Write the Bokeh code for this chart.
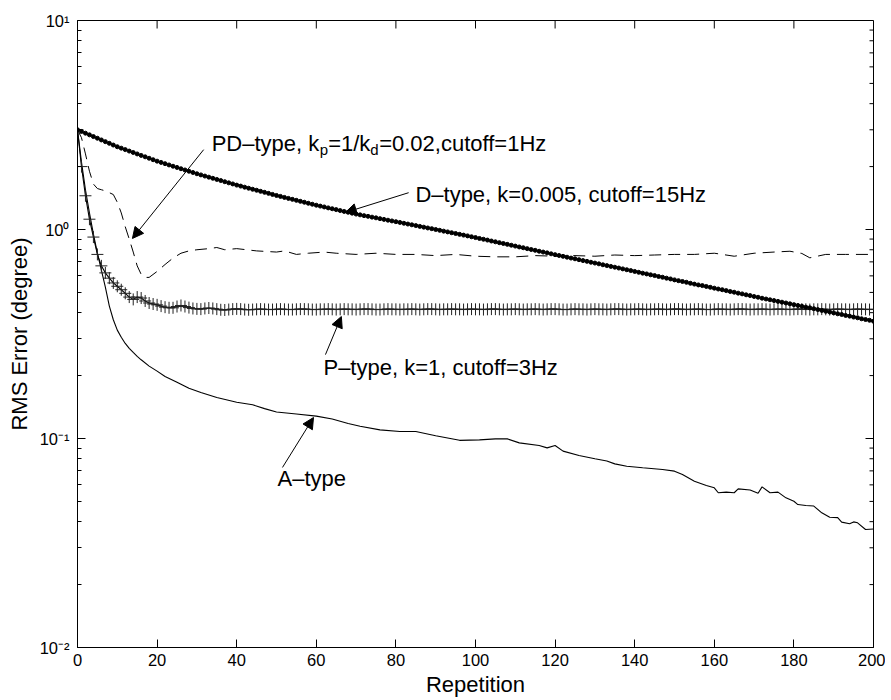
import math
from bokeh.plotting import figure
from bokeh.models import (FixedTicker, CustomJSTickFormatter, Arrow, NormalHead, Label, Range1d)
from bokeh.embed import file_html
from bokeh.resources import INLINE

FONT = "Liberation Sans"

# ---------------- data ----------------
rep = list(range(201))

d_type = [
    3.000, 2.945, 2.890, 2.837, 2.784, 2.733, 2.682, 2.633, 2.584, 2.536,
    2.489, 2.450, 2.411, 2.373, 2.336, 2.299, 2.262, 2.227, 2.192, 2.157,
    2.123, 2.094, 2.065, 2.036, 2.008, 1.981, 1.953, 1.927, 1.900, 1.874,
    1.848, 1.825, 1.802, 1.780, 1.758, 1.736, 1.715, 1.693, 1.672, 1.652,
    1.631, 1.613, 1.594, 1.576, 1.558, 1.541, 1.523, 1.506, 1.489, 1.472,
    1.455, 1.440, 1.424, 1.409, 1.394, 1.379, 1.364, 1.350, 1.335, 1.321,
    1.307, 1.294, 1.282, 1.269, 1.257, 1.245, 1.232, 1.220, 1.209, 1.197,
    1.185, 1.175, 1.165, 1.156, 1.146, 1.137, 1.127, 1.118, 1.108, 1.099,
    1.090, 1.081, 1.071, 1.062, 1.053, 1.044, 1.035, 1.026, 1.017, 1.009,
    1.000, 0.991, 0.982, 0.974, 0.965, 0.957, 0.948, 0.940, 0.932, 0.923,
    0.915, 0.906, 0.898, 0.890, 0.881, 0.873, 0.865, 0.857, 0.849, 0.841,
    0.833, 0.825, 0.818, 0.810, 0.802, 0.795, 0.787, 0.780, 0.773, 0.765,
    0.758, 0.751, 0.744, 0.737, 0.730, 0.724, 0.717, 0.710, 0.704, 0.697,
    0.691, 0.685, 0.678, 0.672, 0.666, 0.660, 0.654, 0.648, 0.642, 0.636,
    0.630, 0.624, 0.618, 0.613, 0.607, 0.602, 0.596, 0.591, 0.585, 0.580,
    0.574, 0.569, 0.564, 0.559, 0.553, 0.548, 0.543, 0.539, 0.534, 0.529,
    0.524, 0.519, 0.515, 0.510, 0.505, 0.501, 0.496, 0.492, 0.487, 0.483,
    0.478, 0.474, 0.469, 0.465, 0.461, 0.457, 0.453, 0.449, 0.445, 0.441,
    0.437, 0.433, 0.429, 0.425, 0.422, 0.418, 0.414, 0.410, 0.406, 0.403,
    0.399, 0.395, 0.392, 0.388, 0.385, 0.381, 0.378, 0.374, 0.371, 0.368,
    0.364,
]

p_type = [
    3.0, 2.0, 1.45, 1.12, 0.92, 0.76, 0.67, 0.62, 0.585, 0.555,
    0.535, 0.515, 0.495, 0.475, 0.463, 0.475, 0.47, 0.455, 0.445, 0.44,
    0.436, 0.43, 0.425, 0.422, 0.422, 0.428, 0.433, 0.428, 0.423, 0.419,
    0.417, 0.416, 0.419, 0.421, 0.419, 0.416, 0.413, 0.412, 0.414, 0.416,
    0.417, 0.416, 0.414, 0.413, 0.414, 0.415, 0.416, 0.415, 0.414, 0.414,
    0.415, 0.416, 0.415, 0.414, 0.414, 0.415, 0.416, 0.416, 0.415, 0.414,
    0.414, 0.415, 0.415, 0.416, 0.415, 0.414, 0.415, 0.416, 0.415, 0.415,
    0.414, 0.415, 0.416, 0.416, 0.415, 0.414, 0.414, 0.415, 0.416, 0.415,
    0.415, 0.414, 0.415, 0.415, 0.416, 0.415, 0.414, 0.415, 0.416, 0.416,
    0.415, 0.414, 0.415, 0.415, 0.416, 0.415, 0.415, 0.414, 0.415, 0.416,
    0.415, 0.415, 0.414, 0.415, 0.416, 0.416, 0.415, 0.414, 0.415, 0.415,
    0.416, 0.415, 0.414, 0.415, 0.415, 0.416, 0.415, 0.414, 0.415, 0.416,
    0.416, 0.415, 0.414, 0.414, 0.415, 0.416, 0.415, 0.415, 0.414, 0.415,
    0.416, 0.415, 0.415, 0.414, 0.415, 0.416, 0.416, 0.415, 0.414, 0.415,
    0.415, 0.416, 0.415, 0.414, 0.415, 0.415, 0.416, 0.415, 0.414, 0.415,
    0.416, 0.416, 0.415, 0.414, 0.415, 0.415, 0.416, 0.415, 0.414, 0.414,
    0.415, 0.416, 0.415, 0.415, 0.414, 0.415, 0.416, 0.416, 0.415, 0.414,
    0.415, 0.415, 0.416, 0.415, 0.414, 0.415, 0.416, 0.415, 0.415, 0.414,
    0.415, 0.416, 0.416, 0.415, 0.414, 0.415, 0.415, 0.416, 0.415, 0.414,
    0.415, 0.416, 0.415, 0.415, 0.414, 0.415, 0.416, 0.415, 0.415, 0.414,
    0.415,
]

pd_rep = [0, 1, 2, 3, 4, 5, 6, 7, 8, 9, 10, 11, 12, 13, 14, 15, 16, 17, 18,
          20, 22, 24, 26, 28, 30, 33, 35, 37, 40, 45, 50, 52, 55, 58, 62, 65,
          70, 75, 80, 85, 90, 95, 100, 105, 110, 115, 120, 125, 130, 135, 140,
          145, 150, 155, 160, 165, 170, 175, 179, 182, 184, 188, 193, 200]
pd_type = [3.0, 2.75, 2.3, 1.9, 1.65, 1.57, 1.55, 1.53, 1.5, 1.47, 1.35, 1.2,
           1.03, 0.9, 0.78, 0.67, 0.61, 0.59, 0.59,
           0.63, 0.68, 0.73, 0.77, 0.79, 0.80, 0.81, 0.82, 0.80, 0.81, 0.79,
           0.78, 0.79, 0.76, 0.77, 0.78, 0.77,
           0.76, 0.77, 0.76, 0.76, 0.75, 0.76, 0.745, 0.74, 0.74, 0.75, 0.745,
           0.75, 0.745, 0.755, 0.75,
           0.755, 0.76, 0.76, 0.77, 0.745, 0.77, 0.78, 0.787, 0.768, 0.732,
           0.76, 0.76, 0.76]

a_rep = [0, 1, 2, 3, 4, 5, 6, 7, 8, 9, 10, 11, 12, 13, 14, 15, 16,
         18, 20, 22, 25, 28, 31, 35, 40, 44, 47, 50, 55, 60, 64, 68, 71, 76,
         81, 85, 90, 96, 101, 105, 108, 111, 116, 118, 120, 122, 126, 130, 133,
         135, 138, 142, 147, 150, 152, 155, 158, 160, 161, 163, 165, 166, 169,
         171, 172, 174, 176, 178, 180, 181, 183, 185, 187, 189, 191, 192, 194,
         195, 196, 198, 200]
a_type = [3.0, 2.1, 1.55, 1.2, 0.95, 0.77, 0.64, 0.53, 0.43, 0.37, 0.33, 0.305,
          0.285, 0.27, 0.258, 0.247, 0.238,
          0.222, 0.21, 0.198, 0.186, 0.174, 0.166, 0.157, 0.149, 0.145, 0.139,
          0.134, 0.131, 0.128, 0.124, 0.118, 0.1145, 0.110, 0.108, 0.108,
          0.103, 0.098, 0.0985, 0.0996, 0.0996, 0.0953, 0.0926, 0.0902, 0.0926,
          0.087, 0.0829, 0.080, 0.078, 0.0756, 0.0737, 0.0724, 0.0711, 0.0698,
          0.0673, 0.0625, 0.0596, 0.0581, 0.055, 0.0554, 0.055, 0.0574, 0.0567,
          0.0547, 0.0587, 0.055, 0.0554, 0.052, 0.0501, 0.0483, 0.0478, 0.0475,
          0.0441, 0.042, 0.0418, 0.0398, 0.0391, 0.0399, 0.0395, 0.0367, 0.0369]

x_ticks = [0, 20, 40, 60, 80, 100, 120, 140, 160, 180, 200]
y_ticks = [0.01, 0.1, 1, 10]
y_minor = [m * d for d in (0.01, 0.1, 1) for m in range(2, 10)]

X0, X1 = 0, 200
Y0, Y1 = 0.01, 10

# ---------------- figure ----------------
p = figure(width=885, height=699, x_range=Range1d(X0, X1), y_range=Range1d(Y0, Y1),
           y_axis_type="log", output_backend="svg", toolbar_location=None,
           min_border_left=77, min_border_right=12, min_border_top=20,
           min_border_bottom=52)
p.background_fill_color = "white"
p.border_fill_color = "white"
p.outline_line_color = "black"
p.outline_line_width = 1
p.xgrid.visible = False
p.ygrid.visible = False

fmt = CustomJSTickFormatter(code="""
const e = Math.round(Math.log10(tick));
const sup = {"-2": "\u207B\u00B2", "-1": "\u207B\u00B9", "0": "\u2070", "1": "\u00B9"};
return "10" + sup[String(e)];
""")

def style_axis(ax):
    ax.axis_line_color = "black"
    ax.major_tick_line_color = "black"
    ax.minor_tick_line_color = "black"
    ax.major_tick_in = 8
    ax.major_tick_out = 0
    ax.minor_tick_in = 4
    ax.minor_tick_out = 0
    ax.major_label_text_font = FONT
    ax.major_label_text_color = "black"
    ax.major_label_text_font_size = "16.5px"
    ax.axis_label_text_font = FONT
    ax.axis_label_text_font_style = "normal"
    ax.axis_label_text_font_size = "22px"
    ax.axis_label_text_color = "black"

xa = p.xaxis[0]
style_axis(xa)
xa.ticker = FixedTicker(ticks=x_ticks)
xa.axis_label = "Repetition"
xa.major_label_standoff = 6
xa.axis_label_standoff = 3

ya = p.yaxis[0]
style_axis(ya)
ya.ticker = FixedTicker(ticks=y_ticks, minor_ticks=y_minor)
ya.formatter = fmt
ya.axis_label = "RMS Error (degree)"
ya.major_label_standoff = 8
ya.axis_label_standoff = 5

# ticks on the top and right edges of the box (short screen-length rays)
p.ray(x=x_ticks, y=[Y1] * len(x_ticks), length=8, length_units="screen",
      angle=-math.pi / 2, line_color="black", line_width=1)
p.ray(x=[X1] * len(y_ticks), y=y_ticks, length=8, length_units="screen",
      angle=math.pi, line_color="black", line_width=1)
p.ray(x=[X1] * len(y_minor), y=y_minor, length=4, length_units="screen",
      angle=math.pi, line_color="black", line_width=1)

# ---------------- series ----------------
p.line(a_rep, a_type, line_color="black", line_width=1.1)
p.line(pd_rep, pd_type, line_color="black", line_width=1, line_dash="12 7")
p.line(rep, p_type, line_color="black", line_width=1.1)
p.scatter(rep, p_type, marker="cross", size=12, line_color="#222222", line_width=1)
p.line(rep, d_type, line_color="black", line_width=1)
p.scatter(rep, d_type, marker="circle", size=4, fill_color="black", line_color="black")

# ---------------- annotations ----------------
def arrow(x0, y0, x1, y1):
    p.add_layout(Arrow(end=NormalHead(size=11, fill_color="black", line_color="black"),
                       x_start=x0, y_start=y0, x_end=x1, y_end=y1,
                       line_color="black", line_width=1))

arrow(31.7, 2.41, 13.8, 0.906)     # PD
arrow(83.2, 1.50, 67.3, 1.206)     # D
arrow(62.3, 0.252, 66.3, 0.3835)   # P
arrow(51.5, 0.0727, 59.3, 0.126)   # A

def label(x, y, text, dx=0, dy=4, size="22px"):
    p.add_layout(Label(x=x, y=y, x_offset=dx, y_offset=dy, text=text,
                       text_font=FONT, text_font_size=size, text_color="black",
                       text_align="left", text_baseline="alphabetic"))

# PD-type label with subscripts
label(33.7, 2.468, "PD\u2013type, k", 0)
label(33.7, 2.468, "p", 108.0, -2, "15px")
label(33.7, 2.468, "=1/k", 116.5)
label(33.7, 2.468, "d", 158.7, -2, "15px")
label(33.7, 2.468, "=0.02,cutoff=1Hz", 167.5)

label(84.9, 1.407, "D\u2013type, k=0.005, cutoff=15Hz")
label(61.8, 0.2092, "P\u2013type, k=1, cutoff=3Hz")
label(50.25, 0.0616, "A\u2013type")

open("out.html", "w").write(file_html(p, INLINE))
